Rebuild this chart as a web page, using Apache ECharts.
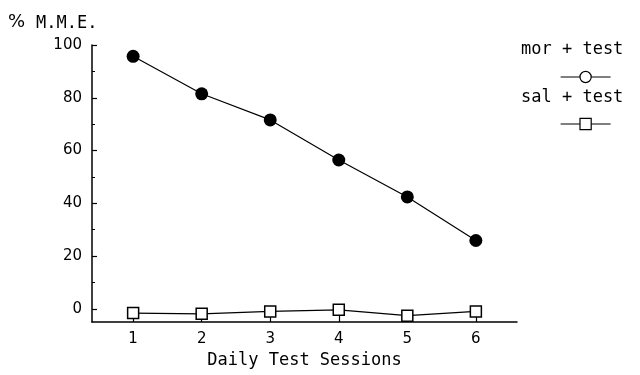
<!DOCTYPE html>
<html><head><meta charset="utf-8">
<script src="https://cdn.jsdelivr.net/npm/echarts@6/dist/echarts.min.js"></script>
<style>html,body{margin:0;padding:0;background:#fff}#c{width:640px;height:375px}</style>
</head><body><div id="c"></div>
<script>
const sessions = [1, 2, 3, 4, 5, 6];
const morTest = [95.7, 81.5, 71.6, 56.4, 42.4, 25.9];
const salTest = [-1.6, -1.9, -1.0, -0.4, -2.6, -1.0];
const yMajorTicks = [0, 20, 40, 60, 80, 100];
const yMinorTicks = [10, 30, 50, 70, 90];
const seriesNames = ['mor + test', 'sal + test'];

const chart = echarts.init(document.getElementById('c'));
const font = 'DejaVu Sans';
const mono = 'DejaVu Sans Mono';
chart.setOption({
  animation: false,
  backgroundColor: '#fff',
  grid: {left: 92, right: 123, top: 45, bottom: 53},
  xAxis: {
    type: 'value', min: 0.4, max: 6.6,
    name: 'Daily Test Sessions', nameLocation: 'middle', nameGap: 30,
    nameTextStyle: {fontFamily: mono, fontSize: 17, color: '#000'},
    axisLine: {show: true, onZero: false, lineStyle: {color: '#000', width: 1.5}},
    axisTick: {show: true, inside: true, length: 7, customValues: sessions, lineStyle: {color: '#000', width: 1.2}},
    axisLabel: {customValues: sessions, color: '#000', fontFamily: font, fontSize: 15, margin: 10},
    splitLine: {show: false}
  },
  yAxis: [{
    type: 'value', min: -5, max: 100,
    axisLine: {show: true, onZero: false, lineStyle: {color: '#000', width: 1.5}},
    axisTick: {show: true, inside: true, length: 5, customValues: yMajorTicks, lineStyle: {color: '#000', width: 1.2}},
    axisLabel: {customValues: yMajorTicks, color: '#000', fontFamily: font, fontSize: 15, margin: 10},
    splitLine: {show: false}
  }, {
    type: 'value', min: -5, max: 100, position: 'left',
    axisLine: {show: false, onZero: false},
    axisTick: {show: true, inside: true, length: 3, customValues: yMinorTicks, lineStyle: {color: '#000', width: 1}},
    axisLabel: {show: false},
    splitLine: {show: false}
  }],
  legend: [{
    data: [seriesNames[0]], left: 555, top: 65, itemWidth: 50, itemHeight: 14,
    formatter: () => '', itemGap: 0,
    itemStyle: {color: '#fff', borderColor: '#000', borderWidth: 1.2},
    lineStyle: {color: '#000', width: 1.2}
  }, {
    data: [seriesNames[1]], left: 555, top: 112, itemWidth: 50, itemHeight: 14,
    formatter: () => '', itemGap: 0,
    itemStyle: {color: '#fff', borderColor: '#000', borderWidth: 1.2},
    lineStyle: {color: '#000', width: 1.2}
  }],
  graphic: [
    {type: 'text', left: 8, top: 13, style: {text: '%', font: '18px ' + font, fill: '#000'}},
    {type: 'text', left: 36, top: 15, style: {text: 'M.M.E.', font: '17px ' + mono, fill: '#000'}},
    {type: 'text', left: 521, top: 41, style: {text: seriesNames[0], font: '17px ' + mono, fill: '#000'}},
    {type: 'text', left: 521, top: 89, style: {text: seriesNames[1], font: '17px ' + mono, fill: '#000'}}
  ],
  series: [{
    name: seriesNames[0], type: 'line',
    data: sessions.map((s, i) => [s, morTest[i]]),
    symbol: 'circle', symbolSize: 13,
    itemStyle: {color: '#000'},
    lineStyle: {color: '#000', width: 1.2}
  }, {
    name: seriesNames[1], type: 'line',
    data: sessions.map((s, i) => [s, salTest[i]]),
    symbol: 'rect', symbolSize: 11,
    itemStyle: {color: '#fff', borderColor: '#000', borderWidth: 1.5},
    lineStyle: {color: '#000', width: 1.2}
  }]
});
</script></body></html>
